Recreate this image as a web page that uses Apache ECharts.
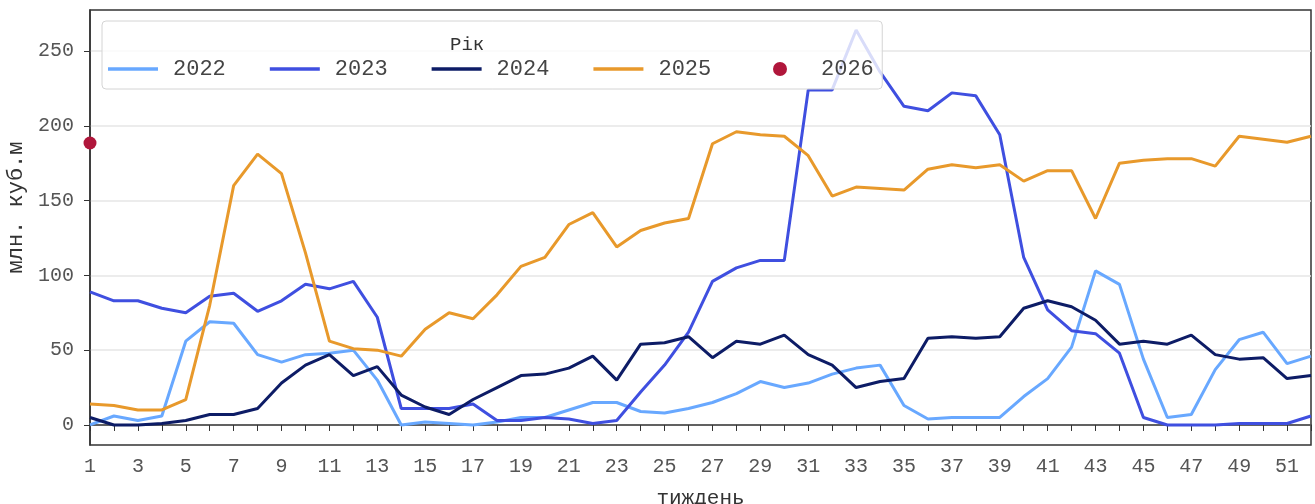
<!DOCTYPE html>
<html>
<head>
<meta charset="utf-8">
<script src="https://cdn.jsdelivr.net/npm/echarts@6/dist/echarts.min.js"></script>
<style>
  html, body { margin: 0; padding: 0; background: #fff; }
  #chart { width: 1315px; height: 504px; }
</style>
</head>
<body>
<div id="chart"></div>
<script>
const weeks = [1, 2, 3, 4, 5, 6, 7, 8, 9, 10, 11, 12, 13, 14, 15, 16, 17, 18, 19, 20, 21, 22, 23, 24, 25, 26,
  27, 28, 29, 30, 31, 32, 33, 34, 35, 36, 37, 38, 39, 40, 41, 42, 43, 44, 45, 46, 47, 48, 49, 50, 51, 52]

const y2022 = [0, 6, 3, 6, 56, 69, 68, 47, 42, 47, 48, 50, 30, 0, 2, 1, 0, 2, 5, 5, 10, 15, 15, 9, 8, 11,
  15, 21, 29, 25, 28, 34, 38, 40, 13, 4, 5, 5, 5, 19, 31, 52, 103, 94, 44, 5, 7, 37, 57, 62, 41, 46]
const y2023 = [89, 83, 83, 78, 75, 86, 88, 76, 83, 94, 91, 96, 72, 11, 11, 11, 14, 3, 3, 5, 4, 1, 3, 22, 40, 62,
  96, 105, 110, 110, 224, 224, 264, 236, 213, 210, 222, 220, 194, 112, 77, 63, 61, 48, 5, 0, 0, 0, 1, 1, 1, 6]
const y2024 = [5, 0, 0, 1, 3, 7, 7, 11, 28, 40, 47, 33, 39, 20, 12, 7, 17, 25, 33, 34, 38, 46, 30, 54, 55, 59,
  45, 56, 54, 60, 47, 40, 25, 29, 31, 58, 59, 58, 59, 78, 83, 79, 70, 54, 56, 54, 60, 47, 44, 45, 31, 33]
const y2025 = [14, 13, 10, 10, 17, 80, 160, 181, 168, 115, 56, 51, 50, 46, 64, 75, 71, 87, 106, 112, 134, 142, 119, 130, 135, 138,
  188, 196, 194, 193, 180, 153, 159, 158, 157, 171, 174, 172, 174, 163, 170, 170, 138, 175, 177, 178, 178, 173, 193, 191, 189, 193]
const y2026 = [188.5]

const yTicks = [0, 50, 100, 150, 200, 250]

const toPairs = vals => vals.map((v, i) => [weeks[i], v])

const font = 'Liberation Mono, DejaVu Sans Mono, monospace'
const lineIcon = 'path://M0,0 L50,0 L50,3.5 L0,3.5 Z'
const legendText = { fontFamily: font, fontSize: 22, color: '#444', padding: [0, 0, 0, 10] }

const lineSeries = (name, vals, color) => ({
  name: name,
  type: 'line',
  data: toPairs(vals),
  symbol: 'none',
  lineStyle: { width: 3, color: color },
  itemStyle: { color: color },
  z: 2
})

const chart = echarts.init(document.getElementById('chart'))
chart.setOption({
  animation: false,
  textStyle: { fontFamily: font },
  grid: {
    left: 90,
    right: 4,
    top: 10,
    bottom: 59,
    outerBoundsMode: 'none',
    containLabel: false,
    show: true,
    borderColor: '#333',
    borderWidth: 1.5
  },
  title: {
    text: 'Рік',
    left: 450,
    top: 35,
    padding: 0,
    textStyle: { fontFamily: font, fontSize: 19, fontWeight: 'normal', color: '#333' }
  },
  legend: [
    {
      left: 102,
      top: 21,
      padding: [37, 171, 9, 6],
      itemWidth: 50,
      itemHeight: 14,
      itemGap: 44,
      backgroundColor: 'rgba(255,255,255,0.8)',
      borderColor: '#d4d4d4',
      borderWidth: 1,
      borderRadius: 4,
      textStyle: legendText,
      data: [
        { name: '2022', icon: lineIcon },
        { name: '2023', icon: lineIcon },
        { name: '2024', icon: lineIcon },
        { name: '2025', icon: lineIcon }
      ]
    },
    {
      left: 773,
      top: 58,
      padding: 0,
      itemWidth: 14,
      itemHeight: 14,
      textStyle: { fontFamily: font, fontSize: 22, color: '#444', padding: [0, 0, 0, 29] },
      data: [{ name: '2026', icon: 'circle' }]
    }
  ],
  xAxis: {
    type: 'value',
    min: 1,
    max: 52,
    interval: 1,
    name: 'тиждень',
    nameLocation: 'middle',
    nameGap: 43,
    nameTextStyle: { fontFamily: font, fontSize: 21, color: '#333' },
    axisLine: { show: true, lineStyle: { color: '#333', width: 1.5 } },
    axisTick: { show: true, length: 6, lineStyle: { color: '#333' } },
    axisLabel: {
      margin: 12,
      fontSize: 20,
      color: '#555',
      formatter: v => (v % 2 === 1 ? String(v) : '')
    },
    splitLine: { show: false }
  },
  yAxis: {
    type: 'value',
    min: -13.4,
    max: 277.4,
    name: 'млн. куб.м',
    nameLocation: 'middle',
    nameGap: 62,
    nameTextStyle: { fontFamily: font, fontSize: 22, color: '#333', padding: [0, 0, 0, 40] },
    axisLine: { show: true, lineStyle: { color: '#333', width: 1.5 } },
    axisTick: { show: true, length: 6, customValues: yTicks, lineStyle: { color: '#333' } },
    axisLabel: { margin: 16, fontSize: 20, color: '#555', customValues: yTicks },
    splitLine: { show: true, lineStyle: { color: '#e6e6e6', width: 1.5 } }
  },
  series: [
    lineSeries('2022', y2022, '#68a8ff'),
    lineSeries('2023', y2023, '#3f4fe0'),
    lineSeries('2024', y2024, '#0d1c66'),
    lineSeries('2025', y2025, '#e8992b'),
    {
      name: '2026',
      type: 'scatter',
      data: toPairs(y2026),
      symbol: 'circle',
      symbolSize: 13,
      itemStyle: { color: '#b0163b', opacity: 1 },
      z: 3
    }
  ]
})
</script>
</body>
</html>
